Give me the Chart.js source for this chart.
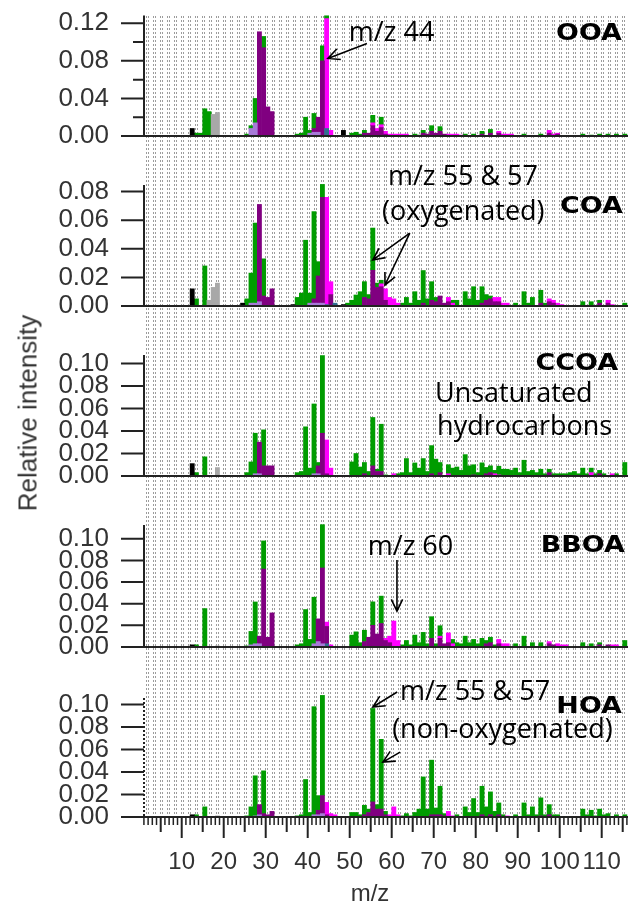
<!DOCTYPE html>
<html>
<head>
<meta charset="utf-8">
<script src="https://cdn.jsdelivr.net/npm/chart.js@4/dist/chart.umd.min.js"></script>
<style>
html, body { margin: 0; padding: 0; background: #fff; }
#wrap { position: relative; width: 635px; height: 904px; overflow: hidden; }
#wrap canvas { position: absolute; left: 0; }
.ttl { position: absolute; font-family: 'Liberation Sans', Arial, sans-serif; font-size: 24px; color: #333; white-space: nowrap; }
#ytitle { left: 28px; top: 413px; font-size: 26px; transform: translate(-50%, -50%) rotate(-90deg); }
#xtitle { left: 370px; top: 893px; transform: translate(-50%, -50%); }
</style>
</head>
<body>
<div id="wrap">
  <canvas id="p0"></canvas>
  <canvas id="p1"></canvas>
  <canvas id="p2"></canvas>
  <canvas id="p3"></canvas>
  <canvas id="p4"></canvas>
  <div class="ttl" id="ytitle">Relative intensity</div>
  <div class="ttl" id="xtitle">m/z</div>
</div>
<script>
// ---- m/z axis ----
const X_MIN = 1.02, X_MAX = 116.26;
const xTickValues = [10, 20, 30, 40, 50, 60, 70, 80, 90, 100, 110];

// ---- ion families (stacked bottom -> top) ----
const familyKeys   = ['Cx', 'HO', 'CHN', 'CHON', 'CHO1', 'CHOgt1', 'CH'];
const familyColors = ['#000000', '#a8a8a8', '#a77ad8', '#2f6f8f', '#800080', '#ff00ff', '#009c00'];

// ---- OOA spectrum: [m/z, relative intensity] ----
const ooaCx    = [[12,0.008],[48,0.006]];
const ooaHO    = [[17,0.023],[18,0.025]];
const ooaCHN   = [[26,0.008],[27,0.014],[40,0.003],[41,0.004],[42,0.004]];
const ooaCHON  = [[44,0.008]];
const ooaCHO1  = [[28,0.111],[29,0.094],[30,0.031],[31,0.026],[41,0.004],[42,0.016],[43,0.080],[53,0.003],[54,0.003],[55,0.011],[56,0.005],[57,0.009],[58,0.002],[67,0.003],[68,0.002],[69,0.005],[70,0.003],[71,0.005],[72,0.002],[81,0.002],[83,0.003],[85,0.003],[97,0.003],[99,0.002]];
const ooaCHOgt1= [[44,0.117],[45,0.006],[55,0.003],[56,0.003],[57,0.003],[58,0.003],[59,0.002],[60,0.002],[61,0.002],[62,0.002],[63,0.002],[73,0.002],[74,0.002],[75,0.002],[76,0.001],[85,0.002],[86,0.002],[87,0.002],[88,0.002],[97,0.003],[98,0.002],[99,0.001]];
const ooaCH    = [[13,0.003],[14,0.003],[15,0.029],[16,0.026],[25,0.002],[26,0.003],[27,0.026],[29,0.012],[37,0.002],[38,0.003],[39,0.020],[40,0.003],[41,0.016],[43,0.016],[44,0.003],[50,0.003],[51,0.004],[52,0.002],[53,0.003],[55,0.008],[57,0.008],[65,0.002],[66,0.001],[67,0.003],[69,0.006],[71,0.005],[77,0.002],[79,0.002],[81,0.003],[83,0.004],[91,0.002],[95,0.002],[105,0.002],[107,0.001],[109,0.002],[111,0.002],[113,0.002],[115,0.002]];

// ---- COA spectrum ----
const coaCx    = [[12,0.012],[24,0.002],[36,0.001],[48,0.001]];
const coaHO    = [[16,0.004],[17,0.013],[18,0.016]];
const coaCHN   = [[26,0.002],[27,0.002],[28,0.003],[40,0.002],[41,0.002],[42,0.002],[43,0.002]];
const coaCHON  = [[44,0.001],[46,0.002]];
const coaCHO1  = [[28,0.068],[29,0.007],[30,0.006],[31,0.012],[41,0.003],[42,0.019],[43,0.074],[45,0.008],[53,0.006],[54,0.005],[55,0.025],[56,0.013],[57,0.0135],[58,0.004],[67,0.002],[69,0.004],[70,0.003],[71,0.007],[72,0.002],[73,0.003],[81,0.002],[82,0.004],[83,0.005],[84,0.003],[85,0.003],[95,0.002],[97,0.003],[98,0.002],[109,0.002],[111,0.002]];
const coaCHOgt1= [[44,0.075],[45,0.009],[57,0.002],[58,0.008],[59,0.006],[60,0.005],[61,0.002],[73,0.003],[74,0.002],[84,0.003],[85,0.003],[86,0.002],[87,0.002],[97,0.002],[98,0.002],[99,0.002],[100,0.001],[111,0.002],[112,0.001]];
const coaCH    = [[13,0.005],[15,0.028],[25,0.005],[26,0.021],[27,0.056],[29,0.026],[37,0.006],[38,0.009],[39,0.046],[40,0.007],[41,0.061],[42,0.010],[43,0.009],[49,0.002],[50,0.004],[51,0.0077],[52,0.010],[53,0.011],[54,0.003],[55,0.0295],[56,0.003],[57,0.0025],[62,0.002],[63,0.006],[64,0.002],[65,0.010],[66,0.004],[67,0.0228],[68,0.005],[69,0.013],[70,0.003],[74,0.002],[75,0.004],[77,0.010],[78,0.005],[79,0.0135],[80,0.004],[81,0.0115],[82,0.004],[83,0.002],[89,0.002],[91,0.010],[92,0.002],[93,0.006],[95,0.009],[96,0.002],[105,0.003],[107,0.003],[109,0.002],[115,0.002]];

// ---- CCOA spectrum ----
const ccoaCx    = [[12,0.011]];
const ccoaHO    = [[18,0.0075]];
const ccoaCHN   = [[27,0.002],[28,0.002],[41,0.002],[42,0.002]];
const ccoaCHON  = [];
const ccoaCHO1  = [[28,0.028],[29,0.009],[30,0.009],[31,0.009],[42,0.007],[43,0.038],[44,0.002],[53,0.002],[55,0.009],[56,0.004],[57,0.004],[69,0.002],[71,0.003],[79,0.001],[82,0.002],[83,0.003],[97,0.003],[109,0.002]];
const ccoaCHOgt1= [[44,0.030],[45,0.007],[60,0.002],[73,0.002],[84,0.002],[85,0.001],[107,0.003],[112,0.002]];
const ccoaCH    = [[13,0.003],[15,0.017],[25,0.003],[26,0.0125],[27,0.036],[29,0.032],[37,0.003],[38,0.004],[39,0.0437],[40,0.007],[41,0.062],[42,0.003],[43,0.069],[50,0.0125],[51,0.020],[52,0.008],[53,0.010],[54,0.004],[55,0.043],[56,0.002],[57,0.042],[58,0.001],[61,0.002],[62,0.003],[63,0.0155],[64,0.003],[65,0.0116],[66,0.007],[67,0.0155],[68,0.004],[69,0.025],[70,0.015],[71,0.009],[73,0.008],[74,0.007],[75,0.008],[76,0.005],[77,0.019],[78,0.009],[79,0.009],[80,0.003],[81,0.0117],[82,0.0056],[83,0.006],[84,0.003],[85,0.0077],[86,0.006],[87,0.006],[88,0.005],[89,0.007],[90,0.003],[91,0.014],[92,0.004],[93,0.005],[94,0.003],[95,0.006],[96,0.002],[97,0.003],[98,0.002],[99,0.002],[100,0.002],[101,0.002],[102,0.003],[103,0.004],[104,0.002],[105,0.007],[106,0.002],[107,0.004],[108,0.002],[109,0.003],[110,0.002],[113,0.002],[115,0.012]];

// ---- BBOA spectrum ----
const bboaCx    = [[12,0.002]];
const bboaHO    = [[18,0.001]];
const bboaCHN   = [[26,0.002],[27,0.003],[28,0.003],[41,0.003],[42,0.005],[43,0.003]];
const bboaCHON  = [[44,0.003]];
const bboaCHO1  = [[28,0.007],[29,0.072],[30,0.009],[31,0.0315],[42,0.021],[43,0.070],[44,0.016],[53,0.005],[54,0.009],[55,0.020],[56,0.012],[57,0.0217],[58,0.006],[59,0.004],[69,0.008],[71,0.008],[72,0.003],[73,0.004],[82,0.003],[83,0.004],[85,0.003],[97,0.003],[98,0.002],[109,0.002],[111,0.002]];
const bboaCHOgt1= [[44,0.004],[45,0.002],[58,0.002],[59,0.006],[60,0.024],[61,0.006],[71,0.002],[73,0.009],[74,0.003],[85,0.004],[86,0.003],[87,0.003],[97,0.002],[99,0.003],[100,0.002],[101,0.002],[112,0.002],[113,0.002]];
const bboaCH    = [[13,0.002],[15,0.0355],[25,0.001],[26,0.0124],[27,0.0386],[29,0.026],[37,0.002],[38,0.003],[39,0.0346],[40,0.007],[41,0.043],[43,0.040],[50,0.011],[51,0.014],[52,0.004],[53,0.0105],[55,0.0217],[57,0.0253],[62,0.002],[63,0.006],[64,0.002],[65,0.011],[66,0.004],[67,0.0135],[68,0.003],[69,0.020],[70,0.003],[71,0.0096],[74,0.004],[75,0.004],[76,0.003],[77,0.010],[78,0.004],[79,0.007],[80,0.003],[81,0.008],[82,0.003],[83,0.005],[84,0.002],[89,0.003],[91,0.010],[93,0.004],[95,0.004],[105,0.004],[107,0.003],[109,0.002],[115,0.006]];

// ---- HOA spectrum ----
const hoaCx    = [[12,0.002]];
const hoaHO    = [[18,0.001]];
const hoaCHN   = [[27,0.001],[28,0.002],[41,0.002],[42,0.002],[43,0.003]];
const hoaCHON  = [];
const hoaCHO1  = [[28,0.009],[29,0.003],[30,0.002],[31,0.005],[42,0.004],[43,0.016],[44,0.002],[53,0.002],[54,0.004],[55,0.0134],[56,0.007],[57,0.007],[58,0.002],[69,0.002],[70,0.002],[71,0.002],[72,0.001],[81,0.002],[83,0.002],[85,0.002],[95,0.001],[97,0.002]];
const hoaCHOgt1= [[44,0.011],[45,0.003],[46,0.002],[59,0.002],[60,0.009],[61,0.002],[73,0.005],[74,0.001],[87,0.001]];
const hoaCH    = [[13,0.002],[15,0.009],[25,0.001],[26,0.009],[27,0.0356],[29,0.038],[37,0.001],[38,0.002],[39,0.0333],[40,0.004],[41,0.096],[42,0.013],[43,0.089],[50,0.004],[51,0.004],[52,0.002],[53,0.0084],[54,0.003],[55,0.083],[56,0.004],[57,0.062],[58,0.003],[62,0.001],[63,0.003],[64,0.001],[65,0.004],[66,0.007],[67,0.0356],[68,0.007],[69,0.0485],[70,0.006],[71,0.0253],[72,0.002],[75,0.002],[77,0.009],[78,0.004],[79,0.0164],[80,0.004],[81,0.0253],[82,0.009],[83,0.0203],[84,0.005],[85,0.0105],[86,0.002],[89,0.002],[91,0.0125],[92,0.002],[93,0.009],[94,0.002],[95,0.016],[96,0.002],[97,0.009],[98,0.002],[99,0.002],[105,0.007],[106,0.002],[107,0.006],[108,0.001],[109,0.007],[110,0.002],[111,0.003],[113,0.002],[115,0.002]];

// ---- y tick values per panel ----
const ooaYTicks   = [0, 0.04, 0.08, 0.12];
const ooaYMinor   = [0.02, 0.06, 0.10];
const coaYTicks   = [0, 0.02, 0.04, 0.06, 0.08];
const tenthYTicks = [0, 0.02, 0.04, 0.06, 0.08, 0.10];

// ---- panel layout and notes ----
const ANNOT_FONT = "27px 'Open Sans', sans-serif";
const panels = [
  { id: 'p0', name: 'OOA', top: 0, height: 160, padTop: 15, padBottom: 24, ymax: 0.1282,
    fam: [ooaCx, ooaHO, ooaCHN, ooaCHON, ooaCHO1, ooaCHOgt1, ooaCH],
    yTicks: ooaYTicks, yMinor: ooaYMinor, label: [114.8, 0.1017],
    texts: [['m/z 44', 49.8, 0.101]],
    arrows: [[54.1, 0.0985, 44.8, 0.0826]] },
  { id: 'p1', name: 'COA', top: 160, height: 170, padTop: 25, padBottom: 24, ymax: 0.0846,
    fam: [coaCx, coaHO, coaCHN, coaCHON, coaCHO1, coaCHOgt1, coaCH],
    yTicks: coaYTicks, yMinor: [], label: [115.0, 0.0648],
    texts: [['m/z 55 & 57', 59.1, 0.0846], ['(oxygenated)', 57.7, 0.0601]],
    arrows: [[64.3, 0.051, 55.5, 0.0322], [64.3, 0.051, 58.4, 0.0147]] },
  { id: 'p2', name: 'CCOA', top: 330, height: 170, padTop: 25, padBottom: 24, ymax: 0.1075,
    fam: [ccoaCx, ccoaHO, ccoaCHN, ccoaCHON, ccoaCHO1, ccoaCHOgt1, ccoaCH],
    yTicks: tenthYTicks, yMinor: [], label: [113.9, 0.0941],
    texts: [['Unsaturated', 70.3, 0.0658], ['hydrocarbons', 70.8, 0.0362]],
    arrows: [] },
  { id: 'p3', name: 'BBOA', top: 500, height: 172, padTop: 25, padBottom: 25, ymax: 0.1127,
    fam: [bboaCx, bboaHO, bboaCHN, bboaCHON, bboaCHO1, bboaCHOgt1, bboaCH],
    yTicks: tenthYTicks, yMinor: [], label: [115.5, 0.0880],
    texts: [['m/z 60', 54.3, 0.0849]],
    arrows: [[61.25, 0.0803, 61.25, 0.0331]] },
  { id: 'p4', name: 'HOA', top: 672, height: 232, padTop: 26, padBottom: 0, ymax: 0.1057,
    fam: [hoaCx, hoaHO, hoaCHN, hoaCHON, hoaCHO1, hoaCHOgt1, hoaCH],
    yTicks: tenthYTicks, yMinor: [], label: [114.8, 0.0921],
    texts: [['m/z 55 & 57', 62.0, 0.1039], ['(non-oxygenated)', 60.1, 0.0698]],
    arrows: [[61.3, 0.111, 55.5, 0.0977], [62.0, 0.0576, 57.9, 0.0487]],
    bottomAxis: true, dottedAxis: true }
];

Chart.defaults.font.family = "'Liberation Sans', Arial, sans-serif";

function drawArrow(ctx, x1, y1, x2, y2) {
  const ang = Math.atan2(y2 - y1, x2 - x1);
  const L = 13, spread = 0.45;
  ctx.beginPath();
  ctx.moveTo(x1, y1); ctx.lineTo(x2, y2);
  ctx.moveTo(x2 - L * Math.cos(ang - spread), y2 - L * Math.sin(ang - spread));
  ctx.lineTo(x2, y2);
  ctx.lineTo(x2 - L * Math.cos(ang + spread), y2 - L * Math.sin(ang + spread));
  ctx.stroke();
}

const panelDecor = {
  id: 'panelDecor',
  beforeDraw(chart, args, o) {
    // dotted background texture, aligned to page coordinates
    const ctx = chart.ctx, a = chart.chartArea;
    const y0 = o.first ? a.top : 0;
    const y1 = o.last ? a.bottom : chart.height;
    ctx.save();
    ctx.fillStyle = '#9c9c9c';
    const startG = Math.ceil((o.top + y0) / 4) * 4;
    for (let gy = startG; gy - o.top < y1 - 1; gy += 4) {
      const ly = gy - o.top;
      for (let gx = a.left + 2; gx < a.right - 1; gx += 7) {
        ctx.fillRect(gx, ly, 1, 2);
        ctx.fillRect(gx + 2, ly, 1, 2);
      }
    }
    ctx.restore();
  },
  beforeDatasetsDraw(chart) {
    // bars occupy [m, m+1] on the m/z axis
    const xs = chart.scales.x;
    const half = (xs.getPixelForValue(2) - xs.getPixelForValue(1)) / 2;
    chart.ctx.save();
    chart.ctx.translate(half, 0);
  },
  afterDatasetsDraw(chart) {
    chart.ctx.restore();
  },
  afterDraw(chart, args, o) {
    const ctx = chart.ctx, a = chart.chartArea;
    const xs = chart.scales.x, ys = chart.scales.y;
    const X = v => xs.getPixelForValue(v), Y = v => ys.getPixelForValue(v);
    ctx.save();
    ctx.strokeStyle = '#222';
    ctx.lineWidth = 2;
    // axis lines
    ctx.beginPath();
    if (o.dotted) ctx.setLineDash([2, 2]);
    ctx.moveTo(a.left, a.top); ctx.lineTo(a.left, Y(0));
    ctx.stroke();
    ctx.setLineDash([]);
    ctx.beginPath();
    ctx.moveTo(a.left - 1, Y(0)); ctx.lineTo(a.right, Y(0));
    ctx.stroke();
    // y ticks
    ctx.beginPath();
    o.yTicks.forEach(v => { ctx.moveTo(a.left - 23, Y(v)); ctx.lineTo(a.left, Y(v)); });
    o.yMinor.forEach(v => { ctx.moveTo(a.left - 11, Y(v)); ctx.lineTo(a.left, Y(v)); });
    ctx.stroke();
    // m/z ticks on the bottom panel
    if (o.last) {
      for (let m = 1; m <= 116; m++) {
        const len = m % 10 === 0 ? 21 : (m % 5 === 0 ? 15 : 8);
        ctx.lineWidth = m % 5 === 0 ? 2 : 1.5;
        ctx.beginPath();
        ctx.moveTo(X(m), Y(0)); ctx.lineTo(X(m), Y(0) + len);
        ctx.stroke();
      }
    }
    // notes and arrows
    ctx.fillStyle = '#000';
    ctx.strokeStyle = '#000';
    ctx.lineWidth = 1.6;
    ctx.font = ANNOT_FONT;
    ctx.textAlign = 'left';
    ctx.textBaseline = 'alphabetic';
    o.texts.forEach(([t, m, v]) => ctx.fillText(t, X(m), Y(v)));
    o.arrows.forEach(([m1, v1, m2, v2]) => drawArrow(ctx, X(m1), Y(v1), X(m2), Y(v2)));
    // factor name
    ctx.font = "bold 23px 'DejaVu Sans', sans-serif";
    ctx.textAlign = 'right';
    ctx.translate(X(o.label[0]), Y(o.label[1]));
    ctx.scale(1.17, 1);
    ctx.fillText(o.name, 0, 0);
    ctx.restore();
  }
};

const HIDDEN = 'rgba(0,0,0,0)';

panels.forEach((p, i) => {
  const cv = document.getElementById(p.id);
  cv.width = 635; cv.height = p.height;
  cv.style.top = p.top + 'px';
  const datasets = familyKeys.map((k, j) => ({
    label: k,
    data: p.fam[j].map(([m, v]) => ({ x: m, y: v })),
    backgroundColor: familyColors[j],
    borderWidth: 0,
    barPercentage: 1,
    categoryPercentage: 1,
    clip: false
  }));
  const xScale = {
    type: 'linear', min: X_MIN, max: X_MAX, stacked: true, offset: false,
    display: !!p.bottomAxis,
    border: { display: false },
    grid: { display: true, drawOnChartArea: false, tickLength: 31, tickColor: HIDDEN },
    afterBuildTicks: s => { s.ticks = xTickValues.map(v => ({ value: v })); },
    ticks: { autoSkip: false, maxRotation: 0, padding: 0, color: '#333', font: { size: 24 } }
  };
  if (p.bottomAxis) xScale.afterFit = s => { s.height = 87; };
  new Chart(cv, {
    type: 'bar',
    data: { datasets },
    plugins: [panelDecor],
    options: {
      responsive: false,
      animation: false,
      devicePixelRatio: 1,
      layout: { padding: { left: 0, right: 7, top: p.padTop, bottom: p.padBottom } },
      plugins: {
        legend: { display: false },
        tooltip: { enabled: false },
        panelDecor: {
          name: p.name, top: p.top, first: i === 0, last: !!p.bottomAxis,
          dotted: !!p.dottedAxis,
          yTicks: p.yTicks, yMinor: p.yMinor, label: p.label,
          texts: p.texts, arrows: p.arrows
        }
      },
      scales: {
        x: xScale,
        y: {
          min: 0, max: p.ymax, stacked: true,
          border: { display: false },
          grid: { display: true, drawOnChartArea: false, tickLength: 35, tickColor: HIDDEN },
          afterBuildTicks: s => { s.ticks = p.yTicks.map(v => ({ value: v })); },
          afterFit: s => { s.width = 144; },
          ticks: { autoSkip: false, padding: 0, color: '#333', font: { size: 26 },
                   callback: v => v.toFixed(2) }
        }
      }
    }
  });
});
</script>
</body>
</html>
